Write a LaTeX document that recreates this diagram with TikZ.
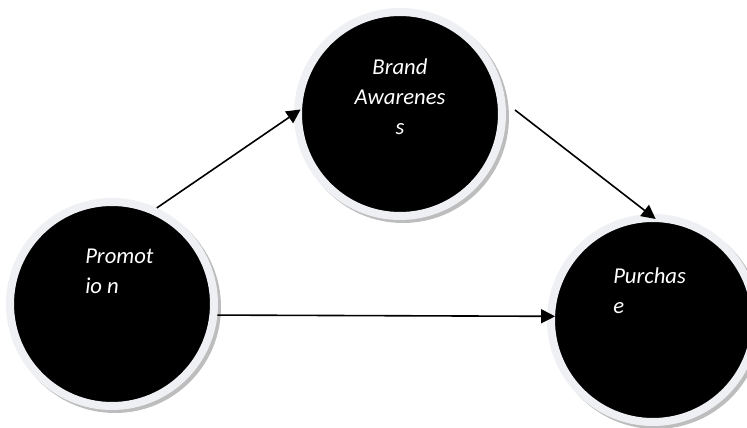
\documentclass[tikz,border=0pt]{standalone}
\usepackage{fontspec}
\setmainfont{Carlito}
\usepackage{tikz}
\usetikzlibrary{positioning}
\usetikzlibrary{arrows.meta}

\definecolor{ringgrey}{HTML}{EFF0F3}
\definecolor{shadegrey}{HTML}{BDBDBD}

\tikzset{
  halo/.style={circle, fill=shadegrey, minimum size=159pt, inner sep=0pt},
  bubble/.style={circle, fill=black, draw=ringgrey, line width=6pt, minimum size=153pt, inner sep=0pt},
  word/.style={text=white, font=\fontsize{17}{22.5}\selectfont\itshape, inner sep=0pt},
  link/.style={-{Triangle[length=10.5pt, width=10.5pt]}, line width=1.2pt, shorten >=-6pt}
}

\begin{document}
\begin{tikzpicture}[x=0.75pt, y=-0.75pt]
			\useasboundingbox (0,0) rectangle (747,428);
			
			\node[halo] (promosh) at (115,307) {};
			\node[halo] (brandsh) at (403,117) {};
			\node[halo] (purchsh) at (656,323) {};
			
			\node[bubble] (promo) at (112,304) {};
			\node[bubble] (brand) at (400,114) {};
			\node[bubble] (purch) at (653,320) {};
			
			\draw[link] (promo.65) to (brand.180);                        % hacia arriba
			\draw[link] ([shift={(6.75pt,3pt)}]brand.east) to (purch.92); % hacia abajo
			\draw[link] (promo.-6) to (purch.178);                        % recta
			
			\node[word, align=left, anchor=west] (promotxt) at (85,271) {Promot\\io n};
			\node[word, align=center] (brandtxt) at (400,97) {Brand\\Awarenes\\s};
			\node[word, align=left, anchor=west] (purchtxt) at (613,291) {Purchas\\e};
		\end{tikzpicture}
\end{document}
